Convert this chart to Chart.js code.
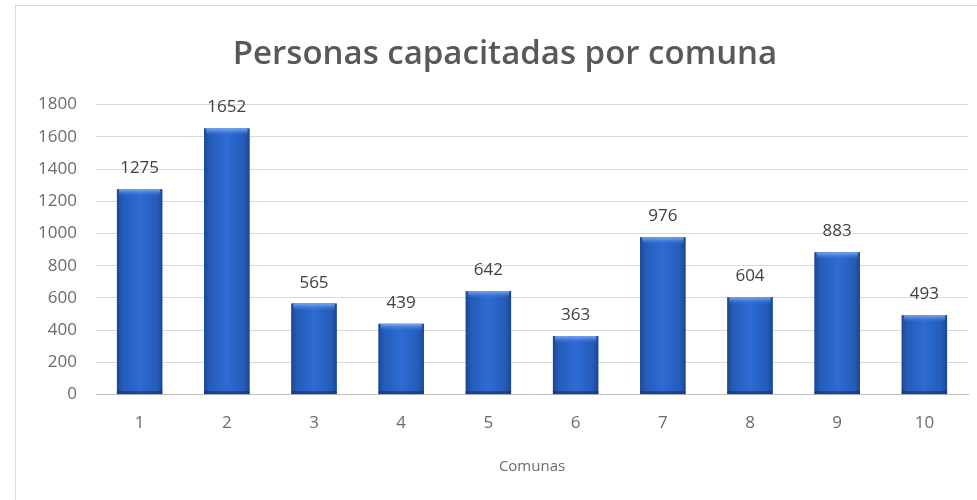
<!DOCTYPE html>
<html>
<head>
<meta charset="utf-8">
<script src="https://cdn.jsdelivr.net/npm/chart.js@4.4.1/dist/chart.umd.min.js"></script>
<style>
  body { margin: 0; background: #ffffff; }
  #marco {
    position: absolute; left: 15px; top: 5px; width: 980px; height: 520px;
    border: 1px solid #d9d9d9; box-sizing: border-box;
  }
  #lienzo { position: absolute; left: 0; top: 0; }
</style>
</head>
<body>
<div id="marco"></div>
<canvas id="lienzo" width="977" height="500"></canvas>
<script>
const comunas = ["1", "2", "3", "4", "5", "6", "7", "8", "9", "10"];
const personas = [1275, 1652, 565, 439, 642, 363, 976, 604, 883, 493];
const tituloGrafico = "Personas capacitadas por comuna";
const tituloEjeX = "Comunas";

const fuente = '"Open Sans", sans-serif';

// el título va centrado un poco a la derecha, como en Excel
const pluginTitulo = {
  id: "moverTitulo",
  afterLayout(chart) {
    if (chart.titleBlock) chart.titleBlock.left = 42;
  },
};

// relleno con degradado encima de cada barra (usa la geometría de la barra)
const pluginDegradado = {
  id: "degradado",
  afterDatasetsDraw(chart) {
    const ctx = chart.ctx;
    chart.getDatasetMeta(0).data.forEach((barra) => {
      const x0 = barra.x - barra.width / 2;
      const alto = barra.base - barra.y;
      const g = ctx.createLinearGradient(x0, 0, x0 + barra.width, 0);
      g.addColorStop(0, "#1c4792");
      g.addColorStop(0.12, "#255bb8");
      g.addColorStop(0.5, "#2e6cd4");
      g.addColorStop(0.88, "#255bb8");
      g.addColorStop(1, "#1c4792");
      ctx.save();
      ctx.fillStyle = g;
      ctx.fillRect(x0, barra.y, barra.width, alto);
      // brillo superior
      const b = ctx.createLinearGradient(0, barra.y, 0, barra.y + 7);
      b.addColorStop(0, "rgba(125,175,245,0.95)");
      b.addColorStop(1, "rgba(60,120,220,0)");
      ctx.fillStyle = b;
      ctx.fillRect(x0 + 2, barra.y, barra.width - 4, 7);
      // borde inferior más oscuro
      ctx.fillStyle = "rgba(20,50,110,0.6)";
      ctx.fillRect(x0, barra.base - 3, barra.width, 3);
      ctx.restore();
    });
  },
};

// etiquetas de valor sobre las barras
const pluginEtiquetas = {
  id: "etiquetas",
  afterDatasetsDraw(chart) {
    const ctx = chart.ctx;
    const meta = chart.getDatasetMeta(0);
    ctx.save();
    ctx.font = "17px " + fuente;
    ctx.fillStyle = "#404040";
    ctx.textAlign = "center";
    ctx.textBaseline = "alphabetic";
    meta.data.forEach((barra, i) => {
      ctx.fillText(String(personas[i]), barra.x, barra.y - 16);
    });
    ctx.restore();
  },
};

new Chart(document.getElementById("lienzo"), {
  type: "bar",
  data: {
    labels: comunas,
    datasets: [
      {
        label: "Personas",
        data: personas,
        backgroundColor: "#2a63c6",
        borderWidth: 0,
        barPercentage: 0.52,
        categoryPercentage: 1,
      },
    ],
  },
  options: {
    responsive: false,
    animation: false,
    layout: { padding: { left: 20, right: 9, top: 0, bottom: 24 } },
    plugins: {
      legend: { display: false },
      tooltip: { enabled: false },
      title: {
        display: true,
        text: tituloGrafico,
        color: "#595959",
        font: { family: fuente, size: 33, weight: "600" },
        padding: { top: 35, bottom: 30 },
      },
    },
    scales: {
      y: {
        min: 0,
        max: 1800,
        ticks: {
          stepSize: 200,
          color: "#6b6b6b",
          font: { family: fuente, size: 17 },
          padding: 19,
          callback: (v) => String(v),
        },
        grid: { color: "#d9d9d9", drawTicks: false, lineWidth: 1 },
        border: { display: false },
        afterFit(escala) {
          escala.width = 76;
        },
      },
      x: {
        ticks: {
          color: "#6b6b6b",
          font: { family: fuente, size: 17 },
          padding: 18,
        },
        grid: { display: false, drawTicks: false },
        border: { display: true, color: "#bfbfbf" },
        title: {
          display: true,
          text: tituloEjeX,
          color: "#6b6b6b",
          font: { family: fuente, size: 15 },
          padding: { top: 7, bottom: 0 },
        },
      },
    },
  },
  plugins: [pluginTitulo, pluginDegradado, pluginEtiquetas],
});
</script>
</body>
</html>
